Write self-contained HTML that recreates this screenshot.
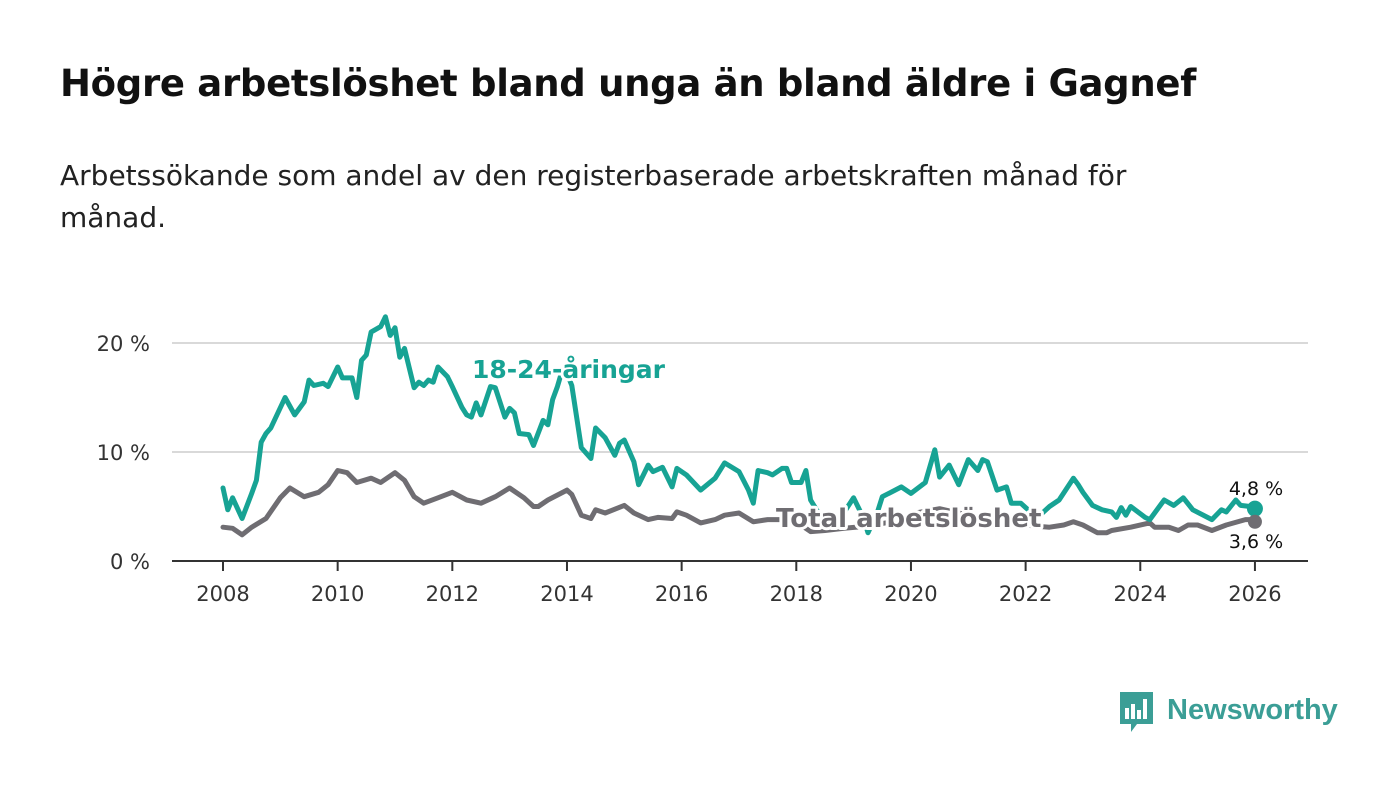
<!DOCTYPE html>
<html><head><meta charset="utf-8">
<style>
body{margin:0;width:1400px;height:794px;background:#fff;overflow:hidden;font-family:"Liberation Sans","DejaVu Sans",sans-serif;}
#title{position:absolute;left:60px;top:62px;font-size:37px;font-weight:bold;color:#111;margin:0;font-family:"DejaVu Sans","Liberation Sans",sans-serif;letter-spacing:-0.3px}
#sub{position:absolute;left:60px;top:155px;font-size:28px;color:#222;line-height:42px;width:1180px;font-family:"DejaVu Sans","Liberation Sans",sans-serif;font-weight:normal}
svg{position:absolute;left:0;top:0}
</style></head><body>
<h1 id="title">Högre arbetslöshet bland unga än bland äldre i Gagnef</h1>
<div id="sub">Arbetssökande som andel av den registerbaserade arbetskraften månad för månad.</div>
<svg id="chart" width="1400" height="794"></svg>
<script>
const youthMonths=[0,1,2,4,6,7,8,9,10,13,15,17,18,19,21,22,24,25,27,28,29,30,31,33,34,35,36,37,38,40,41,42,43,44,45,47,48,50,51,52,53,54,56,57,59,60,61,62,64,65,67,68,69,70,71,72,73,75,77,78,80,82,83,84,86,87,89,90,92,94,95,97,100,103,105,108,110,111,112,114,115,117,118,119,121,122,123,126,129,132,134,135,137,138,142,144,147,149,150,152,154,156,158,159,160,162,164,165,167,169,171,173,175,178,179,180,182,184,186,187,188,189,190,193,194,196,197,199,201,203,207,209,210,212,213,215,216];
const youthValues=[6.7,4.7,5.8,3.9,6.2,7.4,10.9,11.7,12.2,15.0,13.4,14.6,16.6,16.1,16.3,16.0,17.8,16.8,16.8,15.0,18.4,18.9,21.0,21.5,22.4,20.7,21.4,18.7,19.5,15.9,16.4,16.1,16.6,16.4,17.8,16.9,16.0,14.1,13.4,13.2,14.5,13.4,16.0,15.9,13.2,14.0,13.6,11.7,11.6,10.6,12.9,12.5,14.8,16.0,17.5,17.2,16.1,10.4,9.4,12.2,11.3,9.7,10.8,11.1,9.1,7.0,8.8,8.2,8.6,6.8,8.5,7.9,6.5,7.6,9.0,8.2,6.5,5.3,8.3,8.1,7.9,8.5,8.5,7.2,7.2,8.3,5.6,3.4,3.8,5.8,4.0,2.6,4.5,5.9,6.8,6.2,7.2,10.2,7.7,8.8,7.0,9.3,8.3,9.3,9.1,6.5,6.8,5.3,5.3,4.5,4.2,5.0,5.6,7.6,7.0,6.3,5.1,4.7,4.5,4.0,4.9,4.2,5.0,4.0,3.8,5.0,5.6,5.1,5.8,4.7,3.8,4.7,4.5,5.6,5.1,5.0,4.8];
const totalMonths=[0,2,4,6,9,12,14,17,20,22,24,26,28,31,33,36,38,40,42,45,48,51,54,57,60,63,65,66,68,72,73,75,77,78,80,84,86,89,91,94,95,97,100,103,105,108,111,114,117,120,123,126,130,135,140,145,150,155,160,165,170,173,176,178,180,183,185,186,190,193,194,195,198,200,202,204,207,210,214,215,216];
const totalValues=[3.1,3.0,2.4,3.1,3.9,5.8,6.7,5.9,6.3,7.0,8.3,8.1,7.2,7.6,7.2,8.1,7.4,5.9,5.3,5.8,6.3,5.6,5.3,5.9,6.7,5.8,5.0,5.0,5.6,6.5,6.1,4.2,3.9,4.7,4.4,5.1,4.4,3.8,4.0,3.9,4.5,4.2,3.5,3.8,4.2,4.4,3.6,3.8,3.8,3.6,2.7,2.8,3.0,3.2,3.6,4.4,4.8,4.3,3.8,3.5,3.2,3.1,3.3,3.6,3.3,2.6,2.6,2.8,3.1,3.4,3.5,3.1,3.1,2.8,3.3,3.3,2.8,3.3,3.8,3.8,3.6];
const yTicks=[0,10,20];
const yTickLabels=["0 %","10 %","20 %"];
const xTicks=[2008,2010,2012,2014,2016,2018,2020,2022,2024,2026];

const NS="http://www.w3.org/2000/svg";
const svg=document.getElementById('chart');
const X0=172,X1=1308;
function xYear(y){return 223+(y-2008)*57.33;}
function xMonth(m){return xYear(2008+m/12);}
function yVal(v){return 561-v*10.9;}
function el(tag,attrs,parent){const e=document.createElementNS(NS,tag);for(const k in attrs)e.setAttribute(k,attrs[k]);(parent||svg).appendChild(e);return e;}

yTicks.forEach((t,i)=>{
  if(t>0){const g=el('line',{x1:X0,x2:X1,y1:yVal(t),y2:yVal(t),stroke:'#d9d9d9','stroke-width':2});
  
  }
  const tx=el('text',{x:150,y:yVal(t)+8,'text-anchor':'end','font-size':21,fill:'#333','font-family':'DejaVu Sans, Liberation Sans, sans-serif'});
  tx.textContent=yTickLabels[i];
  
  
});
const ax=el('line',{x1:X0,x2:X1,y1:561,y2:561,stroke:'#333','stroke-width':2});


xTicks.forEach(t=>{
  const l=el('line',{x1:xYear(t),x2:xYear(t),y1:561,y2:571,stroke:'#333','stroke-width':2});
  
  
  const tx=el('text',{x:xYear(t),y:601,'text-anchor':'middle','font-size':21,fill:'#333','font-family':'DejaVu Sans, Liberation Sans, sans-serif'});
  tx.textContent=t;
  
  
});
function line(ms,vs,color,name){
  const d=ms.map((m,i)=>(i?'L':'M')+xMonth(m).toFixed(1)+','+yVal(vs[i]).toFixed(1)).join('');
  const p=el('path',{d:d,fill:'none',stroke:color,'stroke-width':5,'stroke-linejoin':'round','stroke-linecap':'round'});
  
  
}
line(totalMonths,totalValues,'#6f6d72','total-line');
line(youthMonths,youthValues,'#17a394','youth-line');
const d1=el('circle',{cx:xMonth(youthMonths[youthMonths.length-1]),cy:yVal(youthValues[youthValues.length-1]),r:8,fill:'#17a394'});


const d2=el('circle',{cx:xMonth(totalMonths[totalMonths.length-1]),cy:yVal(totalValues[totalValues.length-1]),r:7,fill:'#6f6d72'});


function label(x,y,txt,color,size,weight,anchor,name,halo){
  const t=el('text',{x:x,y:y,fill:color,'font-size':size,'font-weight':weight,'text-anchor':anchor,'font-family':'DejaVu Sans, Liberation Sans, sans-serif',stroke:'#fff','stroke-width':halo,'paint-order':'stroke','stroke-linejoin':'round'});
  t.textContent=txt;
  
  
}
label(472,378,'18-24-åringar','#17a394',25,'bold','start','youth-series-label',6);
label(776,527,'Total arbetslöshet','#6f6d72',26,'bold','start','total-series-label',6);
label(1256,495,'4,8 %','#111',19,'normal','middle','youth-end-value',4);
label(1256,548,'3,6 %','#111',19,'normal','middle','total-end-value',4);

const g=el('g',{});


el('path',{d:'M1120 692h33v32h-16l-6 8v-8h-11z',fill:'#3b9e96'},g);
el('rect',{x:1125,y:708,width:4,height:11,fill:'#fff'},g);
el('rect',{x:1131,y:704,width:4,height:15,fill:'#fff'},g);
el('rect',{x:1137,y:710,width:4,height:9,fill:'#fff'},g);
el('rect',{x:1143,y:699,width:4,height:20,fill:'#fff'},g);
const lt=el('text',{x:1167,y:719,'font-size':29,'font-weight':'bold',fill:'#3b9e96','font-family':'Liberation Sans, sans-serif'},g);
lt.textContent='Newsworthy';
</script>
</body></html>
